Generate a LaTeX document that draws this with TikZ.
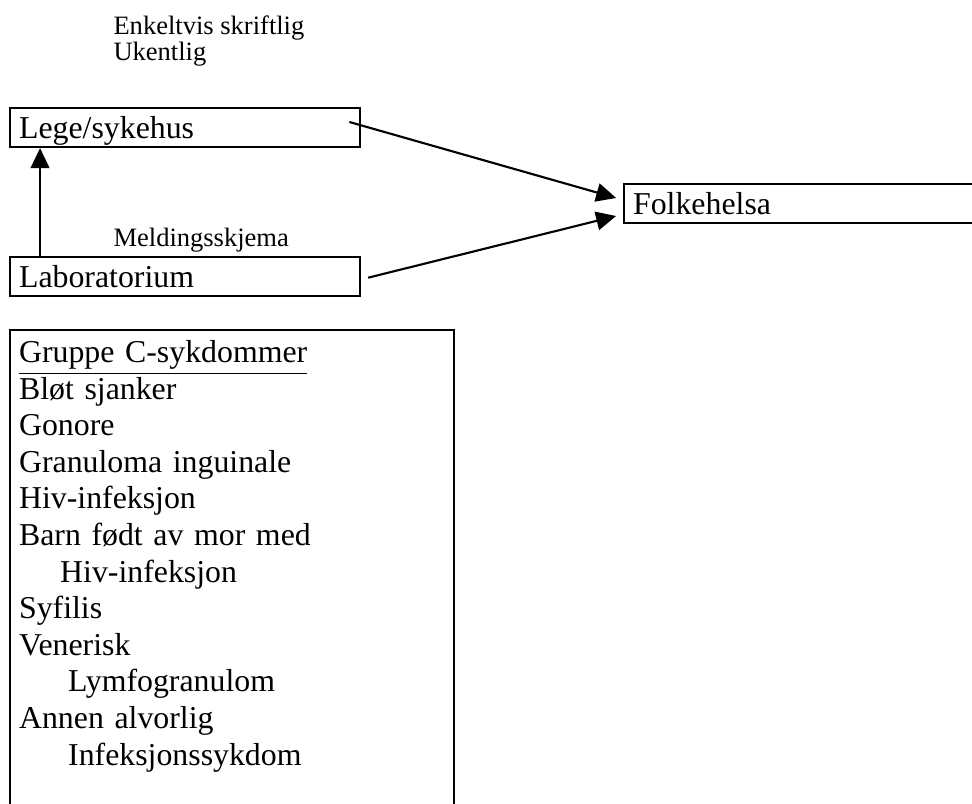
\documentclass[tikz,border=0pt]{standalone}
\usepackage{fontspec}
\setmainfont{Liberation Serif}
\usetikzlibrary{arrows.meta,positioning}
\tikzset{meldebox/.style={draw,line width=0.8pt,anchor=north west,inner xsep=3.4pt,inner ysep=0pt,
    text width=125.2pt,text height=11.3pt,text depth=3.4pt,align=left,font=\fontsize{12}{13.8}\selectfont},
  listebox/.style={draw,line width=0.8pt,anchor=north west,inner xsep=3.4pt,inner ysep=3.9pt,
    text width=160.6pt,text depth=175pt,align=left,font=\fontsize{12}{13.8}\selectfont},
  liten/.style={inner sep=0pt,align=left,font=\fontsize{10}{10.1}\selectfont},
  pil/.style={-{Triangle[length=7.5pt,width=7pt]},line width=0.8pt}}

\begin{document}
\begin{tikzpicture}[x=0.377pt,y=0.377pt]
                   \useasboundingbox (0,0) rectangle (972,803);
                   \node[liten,anchor=north west] (hyppighet) at (113,788) {Enkeltvis skriftlig\\Ukentlig};
                   \node[meldebox] (lege) at (9,696) {Lege/sykehus};
                   \node[meldebox] (lab) [below=40.7pt of lege] {Laboratorium};
                   \node[liten,anchor=base west] (skjema) at (113,556) {Meldingsskjema};
                   \node[meldebox,text width=160pt] (folke) at (623,620) {Folkehelsa};
                   \node[listebox] (gruppe_c) at (9,474) {\underline{Gruppe C-sykdommer}\\
                     Bløt sjanker\\ Gonore\\ Granuloma inguinale\\ Hiv-infeksjon\\ Barn født av mor med\\
                     \hspace*{15.5pt}Hiv-infeksjon\\ Syfilis\\ Venerisk\\ \hspace*{18.5pt}Lymfogranulom\\
                     Annen alvorlig\\ \hspace*{18.5pt}Infeksjonssykdom};
                    \path[pil]
                    ([xshift=11.7pt]lab.north west) edge ([xshift=11.7pt]lege.south west)
                    ([xshift=-4.5pt,yshift=2.1pt]lege.east) edge ([xshift=-2.6pt,yshift=2.1pt]folke.west)
                    ([xshift=2.6pt,yshift=-0.4pt]lab.east) edge ([xshift=-2.6pt,yshift=-4.7pt]folke.west);
                \end{tikzpicture}
\end{document}
